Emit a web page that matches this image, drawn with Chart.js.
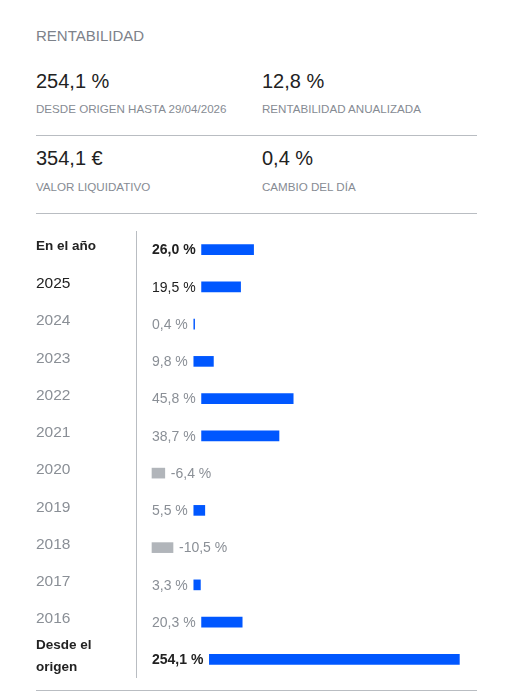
<!DOCTYPE html>
<html lang="es">
<head>
<meta charset="utf-8">
<script src="https://cdn.jsdelivr.net/npm/chart.js"></script>
<style>
  body { margin: 0; background: #fff; font-family: "Liberation Sans", Arial, sans-serif; }
  #page { position: relative; width: 518px; height: 691px; overflow: hidden; }
  .t { position: absolute; white-space: nowrap; line-height: 20px; }
  .title { font-size: 15px; color: #7d828a; }
  .big { font-size: 20px; color: #222; }
  .cap { font-size: 11.6px; color: #868b93; }
  .rule { position: absolute; left: 36px; width: 441px; height: 1px; background: #b9bdc2; }
  #wrap { position: absolute; left: 36px; top: 231px; width: 441px; height: 447px; }
</style>
</head>
<body>
<div id="page">
  <div class="t title" style="left:36px; top:26px;">RENTABILIDAD</div>

  <div class="t big" style="left:36px; top:71px;">254,1 %</div>
  <div class="t cap" style="left:36px; top:99px;">DESDE ORIGEN HASTA 29/04/2026</div>
  <div class="t big" style="left:262px; top:71px;">12,8 %</div>
  <div class="t cap" style="left:262px; top:99px;">RENTABILIDAD ANUALIZADA</div>
  <div class="rule" style="top:135px;"></div>

  <div class="t big" style="left:36px; top:148px;">354,1 €</div>
  <div class="t cap" style="left:36px; top:177px;">VALOR LIQUIDATIVO</div>
  <div class="t big" style="left:262px; top:148px;">0,4 %</div>
  <div class="t cap" style="left:262px; top:177px;">CAMBIO DEL DÍA</div>
  <div class="rule" style="top:213px;"></div>

  <div id="wrap"><canvas id="myChart"></canvas></div>
  <div class="rule" style="top:690px;"></div>
</div>
<script>
    // filas del gráfico
    const rowLabels = ['En el año', '2025', '2024', '2023', '2022', '2021', '2020', '2019', '2018', '2017', '2016', ['Desde el', 'origen']];
    const yearReturns = [26.0, 19.5, 0.4, 9.8, 45.8, 38.7, -6.4, 5.5, -10.5, 3.3, 20.3];
    const originReturn = 254.1;

    const blue = '#0057ff';
    const grey = '#b1b5ba';
    const dark = '#222222';
    const soft = '#8a8f96';
    const fontFamily = '"Liberation Sans", Arial, sans-serif';

    const pxPerUnit = 2;       // barras anuales: 2px por punto
    const plotWidth = 341;     // ancho del area del grafico
    const originMax = 346.6;   // escala propia de la barra "desde el origen"
    const textLeft = 16, gap = 6;

    function fmt(v) { return v.toFixed(1).replace('.', ',') + ' %'; }
    function isStrong(i) { return i === 0 || i === rowLabels.length - 1; }
    function isDark(i) { return i <= 1 || i === rowLabels.length - 1; }
    function fontOf(i) { return (isStrong(i) ? 'bold ' : '') + '14px ' + fontFamily; }

    const measure = document.createElement('canvas').getContext('2d');
    function textW(i, v) { measure.font = fontOf(i); return measure.measureText(fmt(v)).width; }

    const yearData = rowLabels.map((l, i) => {
        if (i >= yearReturns.length) return null;
        const v = yearReturns[i];
        if (v < 0) return [textLeft / pxPerUnit, textLeft / pxPerUnit - v];
        const s = (textLeft + textW(i, v) + gap) / pxPerUnit;
        return [s, s + v];
    });
    const originUnit = originMax / plotWidth;
    const originData = rowLabels.map((l, i) => {
        if (i !== rowLabels.length - 1) return null;
        const s = (textLeft + textW(i, originReturn) + gap) * originUnit;
        return [s, s + originReturn];
    });

    const valueLabels = {
        id: 'valueLabels',
        afterDatasetsDraw(chart) {
            const ctx = chart.ctx;
            const left = chart.chartArea.left;
            ctx.save();
            ctx.textBaseline = 'middle';
            ctx.textAlign = 'left';
            rowLabels.forEach((l, i) => {
                const last = i === rowLabels.length - 1;
                const v = last ? originReturn : yearReturns[i];
                const bar = chart.getDatasetMeta(last ? 1 : 0).data[i];
                ctx.font = fontOf(i);
                ctx.fillStyle = isDark(i) ? dark : soft;
                const x = v < 0 ? bar.x + gap : left + textLeft;
                ctx.fillText(fmt(v), x, bar.y + 1);
            });
            ctx.restore();
        }
    };

    const ctx = document.getElementById('myChart');
    const myChart = new Chart(ctx, {
        type: 'bar',
        data: {
            labels: rowLabels,
            datasets: [
                {
                    data: yearData,
                    xAxisID: 'x',
                    backgroundColor: yearReturns.map(v => v < 0 ? grey : blue),
                    barThickness: 10,
                    grouped: false
                },
                {
                    data: originData,
                    xAxisID: 'x2',
                    backgroundColor: blue,
                    barThickness: 10,
                    grouped: false
                }
            ]
        },
        options: {
            indexAxis: 'y',
            responsive: true,
            maintainAspectRatio: false,
            animation: false,
            layout: { padding: 0 },
            plugins: { legend: { display: false }, tooltip: { enabled: false } },
            scales: {
                x: { display: false, min: 0, max: plotWidth / pxPerUnit },
                x2: { display: false, min: 0, max: originMax },
                y: {
                    grid: { display: false },
                    border: { display: true, color: '#b9bdc2', width: 1 },
                    afterFit(axis) {
                        axis.width = 100;
                        axis.paddingTop = 0;
                        axis.paddingBottom = 0;
                    },
                    ticks: {
                        crossAlign: 'far',
                        labelOffset: -3,
                        padding: 0,
                        autoSkip: false,
                        color: c => isDark(c.index) ? dark : soft,
                        font: c => ({ family: fontFamily, size: isStrong(c.index) ? 13.5 : 15.5, weight: isStrong(c.index) ? 'bold' : 'normal', lineHeight: 1.6 })
                    }
                }
            }
        },
        plugins: [valueLabels]
    });
</script>
</body>
</html>
